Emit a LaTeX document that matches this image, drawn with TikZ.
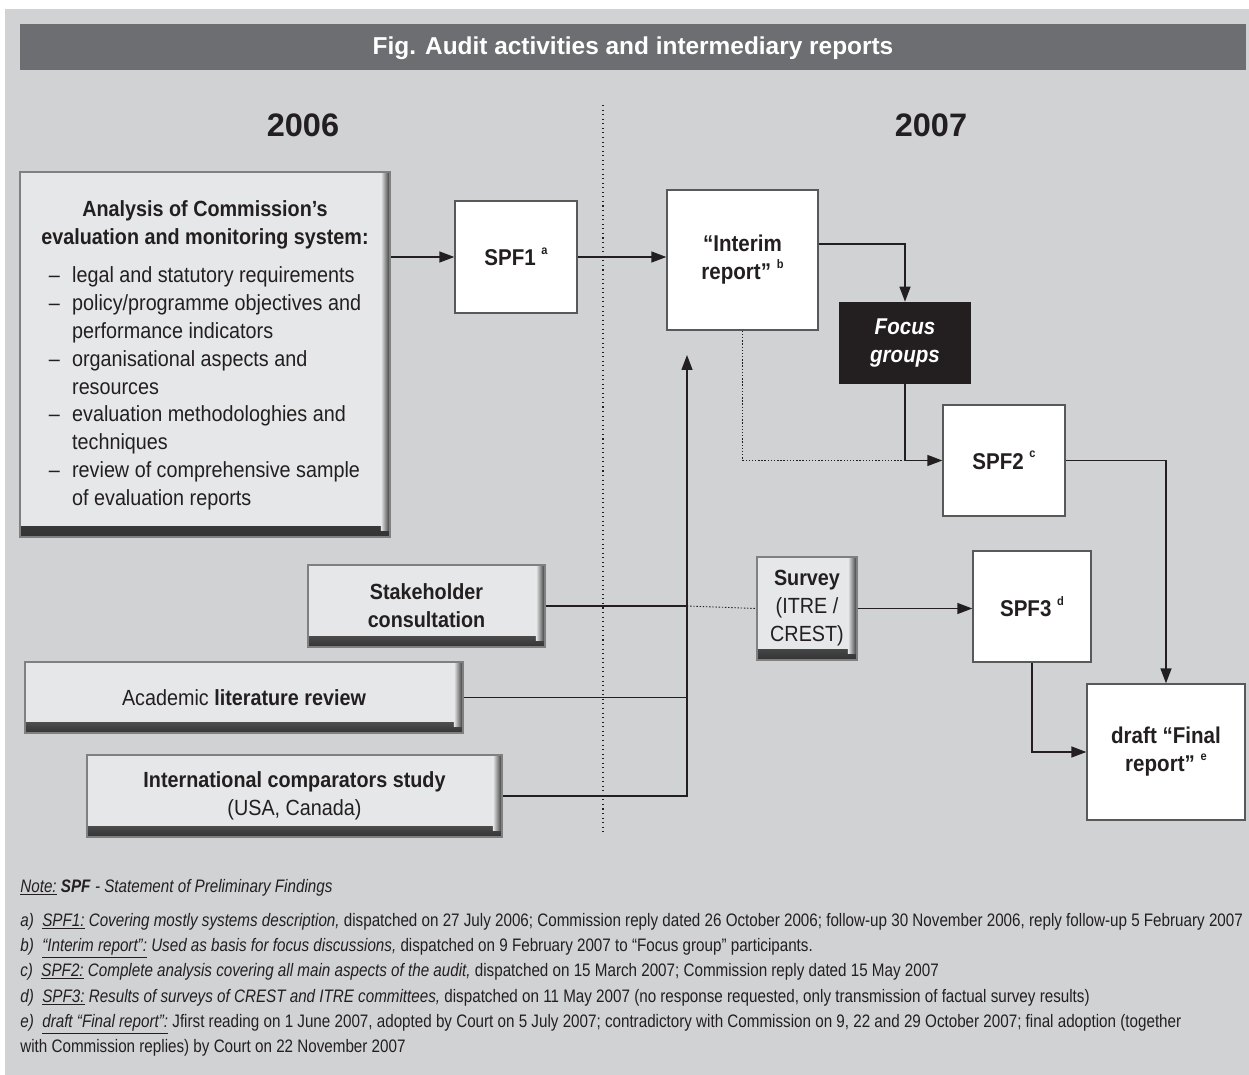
\documentclass[tikz,border=0pt]{standalone}
\usepackage{fontspec}
\setmainfont{Liberation Sans}[FakeStretch=0.9]
\newfontfamily\notefont{Liberation Sans}[FakeStretch=0.84]
\newfontfamily\headfont{Liberation Sans}
\usetikzlibrary{arrows.meta}

\definecolor{bggrey}{HTML}{D1D2D4}
\definecolor{bargrey}{HTML}{6D6E71}
\definecolor{boxgrey}{HTML}{E6E7E8}
\definecolor{edgegrey}{HTML}{58595B}
\definecolor{ink}{HTML}{231F20}

\newcommand{\noteref}[1]{\ \raisebox{0.5em}{\fontsize{7}{7}\selectfont #1}}

\tikzset{
  boxfont/.style={font=\fontsize{12.5}{15.9}\selectfont},
  greybox/.style={draw=black!50, line width=0.8pt, fill=boxgrey, inner sep=0pt, align=center, boxfont,
    path picture={
      \shade[top color=boxgrey, middle color=black!30, bottom color=black!80]
        ([yshift=0.2cm]path picture bounding box.south west) rectangle (path picture bounding box.south east);
      \shade[left color=boxgrey, middle color=black!30, right color=black!80]
        ([xshift=-0.18cm]path picture bounding box.north east) rectangle ([yshift=0.12cm]path picture bounding box.south east);
    }},
  whitebox/.style={draw=edgegrey, line width=0.8pt, fill=white, inner sep=0pt, align=center, boxfont, font=\bfseries\fontsize{13}{16}\selectfont},
  darkbox/.style={fill=ink, text=white, inner sep=0pt, align=center, font=\bfseries\itshape\fontsize{13}{16}\selectfont},
  link/.style={draw=ink, line width=0.8pt},
  notes/.style={anchor=base west, inner sep=0pt, font=\notefont\fontsize{10.3}{12}\selectfont},
}

\begin{document}
\begin{tikzpicture}[>={Triangle[length=0.3cm,width=0.22cm]}, x=0.02cm, y=-0.02cm, color=ink]
	\useasboundingbox (0,0) rectangle (1249,1075);
	
	% Background and title bar
	\fill[white] (0,0) rectangle (1249,1075);
	\fill[bggrey] (5,9) rectangle (1249,1075);
	\fill[bargrey] (20,24) rectangle (1246,70);
	\node[text=white, font=\headfont\bfseries\fontsize{13.9}{16}\selectfont] (title) at (633,48) {Fig. Audit activities and intermediary reports};
	
	% Years
	\node[font=\headfont\bfseries\fontsize{18.5}{20}\selectfont] (yearA) at (303,125) {2006};
	\node[font=\headfont\bfseries\fontsize{18.5}{20}\selectfont] (yearB) at (931,125) {2007};
	\draw[ink, line width=0.6pt, dotted] (603,105) -- (603,835);
	
	% Grey boxes
	\node[greybox, minimum width=7.4cm, minimum height=7.3cm] (analysis) at (205,354.5) {%
		\textbf{Analysis of Commission’s}\\
		\textbf{evaluation and monitoring system:}\\[7pt]
		\begin{tabular}{@{}l@{\hspace{7pt}}l@{}}
			– & legal and statutory requirements\\
			– & policy/programme objectives and\\
			  & performance indicators\\
			– & organisational aspects and\\
			  & resources\\
			– & evaluation methodologhies and\\
			  & techniques\\
			– & review of comprehensive sample\\
			  & of evaluation reports
		\end{tabular}\\[-4pt]};
	\node[greybox, minimum width=4.74cm, minimum height=1.64cm] (stake) at (426.5,606) {\textbf{Stakeholder}\\\textbf{consultation}};
	\node[greybox, minimum width=8.76cm, minimum height=1.42cm] (litrev) at (244,697.5) {Academic \textbf{literature review}};
	\node[greybox, minimum width=8.3cm, minimum height=1.64cm] (intl) at (294.5,796) {\textbf{International comparators study}\\(USA, Canada)};
	\node[greybox, minimum width=2cm, minimum height=2.06cm] (survey) at (807,608.5) {\textbf{Survey}\\(ITRE /\\CREST)};
	
	% Reports
	\node[whitebox, minimum width=2.44cm, minimum height=2.24cm] (spfone) at (516,257) {SPF1\noteref{a}};
	\node[whitebox, minimum width=3.02cm, minimum height=2.8cm] (interim) at (742.5,260) {“Interim\\report”\noteref{b}};
	\node[darkbox, minimum width=2.64cm, minimum height=1.64cm] (focus) at (905,343) {Focus\\groups};
	\node[whitebox, minimum width=2.44cm, minimum height=2.22cm] (spftwo) at (1004,460.5) {SPF2\noteref{c}};
	\node[whitebox, minimum width=2.36cm, minimum height=2.22cm] (spfthree) at (1032,606.5) {SPF3\noteref{d}};
	\node[whitebox, minimum width=3.16cm, minimum height=2.72cm] (final) at (1166,752) {draft “Final\\report”\noteref{e}};
	
	% Connectors
	\coordinate (trunk) at (687,355);
	\draw[link, ->] (analysis.east |- spfone) -- (spfone);
	\draw[link, ->] (spfone.east) -- (spfone.east -| interim.west);
	\draw[link, ->] ([yshift=0.32cm]interim.east) -| (focus.north);
	\draw[link, ->] (focus.south) |- (spftwo.west);
	\draw[link, densely dotted, line width=0.5pt] (interim.south) |- (focus.south |- spftwo.west);
	\draw[link, ->] (spftwo.east) -| (final.north);
	\draw[link, ->] (spfthree.south) |- (final.west);
	\draw[link, ->] (survey.east) -- (survey.east -| spfthree.west);
	\draw[link, line width=1.6pt] (stake.east) -- (stake.east -| trunk);
	\draw[link, densely dotted, line width=0.5pt] (stake.east -| trunk) -- (survey.west);
	\draw[link] (litrev.east) -- (litrev.east -| trunk);
	\draw[link, ->] (intl.east) -| (trunk);
	
	% Notes
	\node[notes] (note) at (20,892) {\underline{\itshape Note:} \textbf{\textit{SPF}} \textit{- Statement of Preliminary Findings}};
	\node[notes] (notea) at (20,926) {\textit{a)}\ \ \underline{\textit{SPF1:}} \textit{Covering mostly systems description,} dispatched on 27 July 2006; Commission reply dated 26 October 2006; follow-up 30 November 2006, reply follow-up 5 February 2007};
	\node[notes] (noteb) at (20,951) {\textit{b)}\ \ \underline{\textit{“Interim report”:}} \textit{Used as basis for focus discussions,} dispatched on 9 February 2007 to “Focus group” participants.};
	\node[notes] (notec) at (20,976) {\textit{c)}\ \ \underline{\textit{SPF2:}} \textit{Complete analysis covering all main aspects of the audit,} dispatched on 15 March 2007; Commission reply dated 15 May 2007};
	\node[notes] (noted) at (20,1002) {\textit{d)}\ \ \underline{\textit{SPF3:}} \textit{Results of surveys of CREST and ITRE committees,} dispatched on 11 May 2007 (no response requested, only transmission of factual survey results)};
	\node[notes] (notee) at (20,1027) {\textit{e)}\ \ \underline{\textit{draft “Final report”:}} Jfirst reading on 1 June 2007, adopted by Court on 5 July 2007; contradictory with Commission on 9, 22 and 29 October 2007; final adoption (together};
	\node[notes] (noteee) at (20,1052) {with Commission replies) by Court on 22 November 2007};
\end{tikzpicture}
\end{document}
